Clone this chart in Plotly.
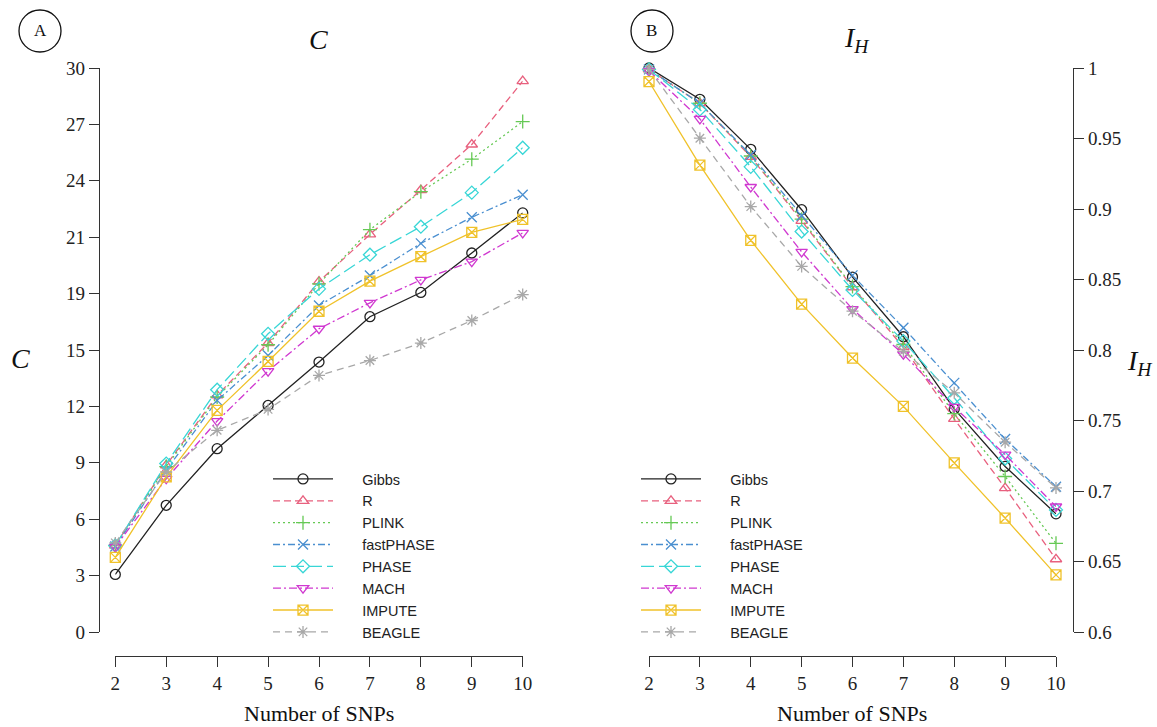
import plotly.graph_objects as go

W, H = 1157, 727

snps = [2, 3, 4, 5, 6, 7, 8, 9, 10]
methods = ["Gibbs", "R", "PLINK", "fastPHASE", "PHASE", "MACH", "IMPUTE", "BEAGLE"]

c_gibbs = [3.06, 6.74, 9.75, 12.05, 14.36, 16.77, 18.06, 20.16, 22.29]
c_r = [4.60, 8.87, 12.59, 15.37, 18.64, 21.15, 23.51, 25.93, 29.30]
c_plink = [4.60, 8.80, 12.50, 15.28, 18.52, 21.40, 23.42, 25.15, 27.15]
c_fastphase = [4.55, 8.60, 12.32, 14.71, 17.37, 18.96, 20.67, 22.06, 23.26]
c_phase = [4.60, 8.96, 12.89, 15.86, 18.25, 20.07, 21.56, 23.37, 25.76]
c_mach = [4.53, 8.15, 11.22, 13.88, 16.13, 17.51, 18.73, 19.70, 21.23]
c_impute = [3.97, 8.25, 11.79, 14.39, 17.06, 18.66, 19.97, 21.26, 21.95]
c_beagle = [4.74, 8.51, 10.73, 11.84, 13.65, 14.44, 15.37, 16.57, 17.95]

ih_gibbs = [1.000, 0.9778, 0.9423, 0.8995, 0.8517, 0.8094, 0.7582, 0.7174, 0.6838]
ih_r = [0.999, 0.975, 0.937, 0.8916, 0.8445, 0.802, 0.7511, 0.7021, 0.6516]
ih_plink = [0.999, 0.975, 0.9376, 0.8928, 0.845, 0.8039, 0.7549, 0.7103, 0.6629]
ih_fastphase = [0.999, 0.975, 0.9383, 0.8952, 0.8529, 0.8158, 0.7767, 0.7369, 0.703]
ih_phase = [0.999, 0.9706, 0.9299, 0.884, 0.8426, 0.8063, 0.766, 0.723, 0.6866]
ih_mach = [0.998, 0.9639, 0.9156, 0.8696, 0.829, 0.797, 0.7596, 0.7258, 0.689]
ih_impute = [0.9904, 0.9311, 0.8778, 0.8325, 0.7943, 0.760, 0.7199, 0.6808, 0.6405]
ih_beagle = [0.999, 0.9502, 0.9017, 0.8593, 0.8275, 0.799, 0.7696, 0.7346, 0.7022]

c_ticks = [0, 3, 6, 9, 12, 15, 18, 21, 24, 27, 30]
c_ticktext = ["0", "3", "6", "9", "12", "15", "19", "21", "24", "27", "30"]
ih_ticks = [0.6, 0.65, 0.7, 0.75, 0.8, 0.85, 0.9, 0.95, 1.0]
ih_ticktext = ["0.6", "0.65", "0.7", "0.75", "0.8", "0.85", "0.9", "0.95", "1"]

c_series = [c_gibbs, c_r, c_plink, c_fastphase, c_phase, c_mach, c_impute, c_beagle]
ih_series = [ih_gibbs, ih_r, ih_plink, ih_fastphase, ih_phase, ih_mach, ih_impute, ih_beagle]

colors = ["#222222", "#E8607E", "#66C955", "#4A8FD0", "#38D6D6", "#D038D0", "#F0C22A", "#A8A8A8"]
dashes = ["solid", "7px,4px", "2px,3px", "7px,3px,2px,3px", "13px,5px", "8px,3px,2px,3px", "solid", "7px,5px"]
symbols = ["circle-open", "triangle-up-open", "cross-thin-open", "x-thin-open",
           "diamond-open", "triangle-down-open", "square-x-open", "asterisk-open"]

PAD = "\u00a0" * 6  # gap between legend sample and its label


def px_x(p):
    return p / W


def px_y(p):
    return 1 - p / H


fig = go.Figure()

for i, m in enumerate(methods):
    fig.add_trace(go.Scatter(
        x=snps, y=c_series[i], name=PAD + m, mode="lines+markers",
        line=dict(color=colors[i], width=1.3, dash=dashes[i]),
        marker=dict(symbol=symbols[i], size=10, color=colors[i], line=dict(width=1.3, color=colors[i])),
        xaxis="x", yaxis="y", legend="legend", cliponaxis=False,
    ))
for i, m in enumerate(methods):
    fig.add_trace(go.Scatter(
        x=snps, y=ih_series[i], name=PAD + m, mode="lines+markers",
        line=dict(color=colors[i], width=1.3, dash=dashes[i]),
        marker=dict(symbol=symbols[i], size=10, color=colors[i], line=dict(width=1.3, color=colors[i])),
        xaxis="x2", yaxis="y2", legend="legend2", cliponaxis=False,
    ))

tick_font = dict(family="Liberation Serif", size=19, color="#222")
ydom = [px_y(632), px_y(68)]

axis_common = dict(showgrid=False, zeroline=False, showline=True, linecolor="#333", linewidth=1.3,
                   ticks="outside", ticklen=10, tickwidth=1.3, tickcolor="#333",
                   tickfont=tick_font, automargin=False)

leg_common = dict(font=dict(family="Liberation Sans", size=14.5, color="#222"),
                  bgcolor="rgba(0,0,0,0)", borderwidth=0, itemwidth=60,
                  xanchor="left", yanchor="top", tracegroupgap=0, itemclick=False)

fig.update_layout(
    width=W, height=H, autosize=False,
    margin=dict(l=0, r=0, t=0, b=0),
    template="none",
    paper_bgcolor="white", plot_bgcolor="white",
    showlegend=True,
    xaxis=dict(domain=[px_x(115.3), px_x(522.7)], range=[2, 10], anchor="free", position=px_y(655.7),
               tickvals=snps, **axis_common),
    yaxis=dict(domain=ydom, range=[0, 30], anchor="free", position=px_x(99),
               tickvals=c_ticks, ticktext=c_ticktext, **axis_common),
    xaxis2=dict(domain=[px_x(649), px_x(1056)], range=[2, 10], anchor="free", position=px_y(655.7),
                tickvals=snps, **axis_common),
    yaxis2=dict(domain=ydom, range=[0.6, 1.0], anchor="free", position=px_x(1073), side="right",
                tickvals=ih_ticks, ticktext=ih_ticktext, **axis_common),
    legend=dict(x=px_x(268), y=px_y(463), **leg_common),
    legend2=dict(x=px_x(636), y=px_y(463), **leg_common),
)

serif = "Liberation Serif"
annos = [
    dict(x=px_x(318), y=px_y(40), text="<i>C</i>", size=28),
    dict(x=px_x(857), y=px_y(40), text="<i>I</i><sub><i>H</i></sub>", size=28),
    dict(x=px_x(20), y=px_y(358), text="<i>C</i>", size=28),
    dict(x=px_x(1140), y=px_y(362), text="<i>I</i><sub><i>H</i></sub>", size=28),
    dict(x=px_x(319), y=px_y(713), text="Number of SNPs", size=22),
    dict(x=px_x(852), y=px_y(713), text="Number of SNPs", size=22),
    dict(x=px_x(40), y=px_y(31), text="A", size=17),
    dict(x=px_x(652), y=px_y(31), text="B", size=17),
]
for a in annos:
    fig.add_annotation(x=a["x"], y=a["y"], xref="paper", yref="paper", text=a["text"],
                       showarrow=False, xanchor="center", yanchor="middle",
                       font=dict(family=serif, size=a["size"], color="#111"))

for cx in (40, 652):
    fig.add_shape(type="circle", xref="paper", yref="paper",
                  x0=px_x(cx - 21), x1=px_x(cx + 21), y0=px_y(31 + 21), y1=px_y(31 - 21),
                  line=dict(color="#111", width=1.3))

fig.write_html("out.html", config={"displayModeBar": False},
               post_script="document.body.style.margin='0';document.body.style.overflow='hidden';")
